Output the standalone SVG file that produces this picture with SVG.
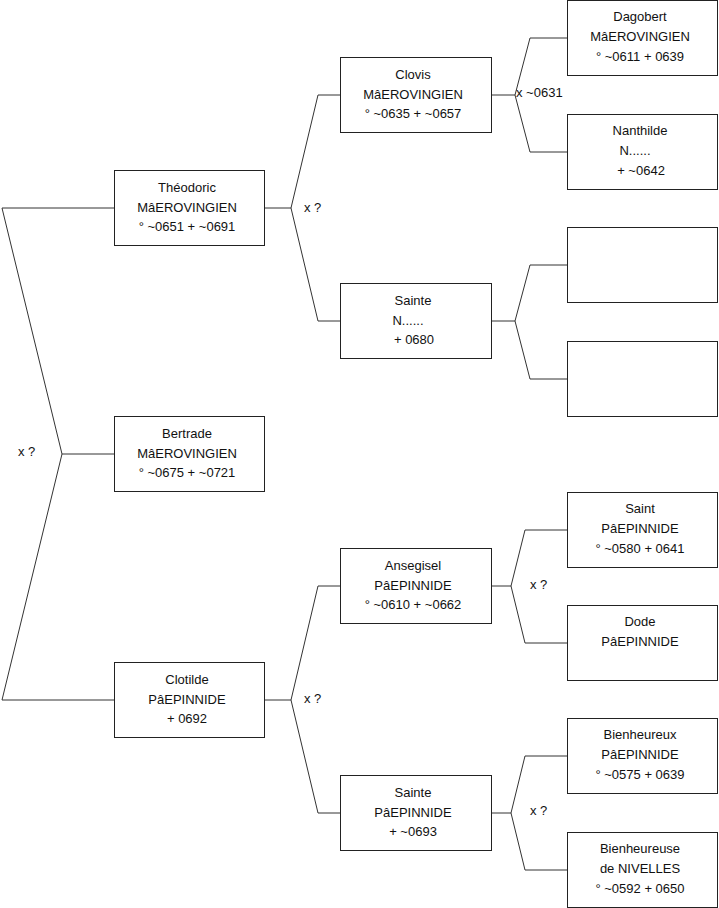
<svg xmlns="http://www.w3.org/2000/svg" width="719" height="908" viewBox="0 0 719 908">
<style>
.box{fill:#fff;stroke:#222;stroke-width:1}
.c{fill:none;stroke:#333;stroke-width:1}
text{font-family:"Liberation Sans",Arial,sans-serif;font-size:13px;fill:#111}
.t{text-anchor:middle}
</style>
<rect width="719" height="908" fill="#fff"/>
<g id="connectors">
<path class="c" d="M114.5,208 H2 L62,454 L2,700 H114.5 M62,454 H114.5"/>
<path class="c" d="M264.5,208 H291 M318,95 L291,208 L318,321 M318,95 H340.5 M318,321 H340.5"/>
<path class="c" d="M264.5,700 H291 M318,586 L291,700 L318,813 M318,586 H340.5 M318,813 H340.5"/>
<path class="c" d="M491.5,95 H515 M530,38 L515,95 L530,152 M530,38 H567.5 M530,152 H567.5"/>
<path class="c" d="M491.5,321 H515 M530,265 L515,321 L530,379 M530,265 H567.5 M530,379 H567.5"/>
<path class="c" d="M491.5,586 H511 M525,530 L511,586 L525,643 M525,530 H567.5 M525,643 H567.5"/>
<path class="c" d="M491.5,813 H511 M525,756 L511,813 L525,870 M525,756 H567.5 M525,870 H567.5"/>
<text x="18" y="456">x ?</text>
<text x="304" y="212">x ?</text>
<text x="304" y="703">x ?</text>
<text x="516" y="97">x ~0631</text>
<text x="530" y="589">x ?</text>
<text x="530" y="815">x ?</text>
</g>
<g id="theodoric"><rect class="box" x="114.5" y="170.5" width="150" height="75"/>
<text class="t" x="187" y="191.5">Théodoric</text><text class="t" x="187" y="211.5">MâEROVINGIEN</text><text class="t" x="187" y="231">° ~0651 + ~0691</text></g>
<g id="bertrade"><rect class="box" x="114.5" y="416.5" width="150" height="75"/>
<text class="t" x="187" y="437.5">Bertrade</text><text class="t" x="187" y="457.5">MâEROVINGIEN</text><text class="t" x="187" y="477">° ~0675 + ~0721</text></g>
<g id="clotilde"><rect class="box" x="114.5" y="662.5" width="150" height="75"/>
<text class="t" x="187" y="683.5">Clotilde</text><text class="t" x="187" y="703.5">PâEPINNIDE</text><text class="t" x="187" y="723">+ 0692</text></g>
<g id="clovis"><rect class="box" x="340.5" y="57.5" width="151" height="75"/>
<text class="t" x="413" y="78.5">Clovis</text><text class="t" x="413" y="98.5">MâEROVINGIEN</text><text class="t" x="413" y="118">° ~0635 + ~0657</text></g>
<g id="sainte-n"><rect class="box" x="340.5" y="283.5" width="151" height="75"/>
<text class="t" x="413" y="304.5">Sainte</text><text class="t" x="408" y="324.5">N......</text><text class="t" x="414" y="344">+ 0680</text></g>
<g id="ansegisel"><rect class="box" x="340.5" y="548.5" width="151" height="75"/>
<text class="t" x="413" y="569.5">Ansegisel</text><text class="t" x="413" y="589.5">PâEPINNIDE</text><text class="t" x="413" y="609">° ~0610 + ~0662</text></g>
<g id="sainte-p"><rect class="box" x="340.5" y="775.5" width="151" height="75"/>
<text class="t" x="413" y="796.5">Sainte</text><text class="t" x="413" y="816.5">PâEPINNIDE</text><text class="t" x="413" y="836">+ ~0693</text></g>
<g id="dagobert"><rect class="box" x="567.5" y="0.5" width="150" height="75"/>
<text class="t" x="640" y="21">Dagobert</text><text class="t" x="640" y="41">MâEROVINGIEN</text><text class="t" x="640" y="60.5">° ~0611 + 0639</text></g>
<g id="nanthilde"><rect class="box" x="567.5" y="114.5" width="150" height="75"/>
<text class="t" x="640" y="135">Nanthilde</text><text class="t" x="635" y="155">N......</text><text class="t" x="641" y="174.5">+ ~0642</text></g>
<g id="blank1"><rect class="box" x="567.5" y="227.5" width="150" height="75"/></g>
<g id="blank2"><rect class="box" x="567.5" y="341.5" width="150" height="75"/></g>
<g id="saint"><rect class="box" x="567.5" y="492.5" width="150" height="75"/>
<text class="t" x="640" y="513">Saint</text><text class="t" x="640" y="533">PâEPINNIDE</text><text class="t" x="640" y="552.5">° ~0580 + 0641</text></g>
<g id="dode"><rect class="box" x="567.5" y="605.5" width="150" height="75"/>
<text class="t" x="640" y="626">Dode</text><text class="t" x="640" y="646">PâEPINNIDE</text></g>
<g id="bienheureux"><rect class="box" x="567.5" y="718.5" width="150" height="75"/>
<text class="t" x="640" y="739">Bienheureux</text><text class="t" x="640" y="759">PâEPINNIDE</text><text class="t" x="640" y="778.5">° ~0575 + 0639</text></g>
<g id="bienheureuse"><rect class="box" x="567.5" y="832.5" width="150" height="75"/>
<text class="t" x="640" y="853">Bienheureuse</text><text class="t" x="640" y="873">de NIVELLES</text><text class="t" x="640" y="892.5">° ~0592 + 0650</text></g>
</svg>
